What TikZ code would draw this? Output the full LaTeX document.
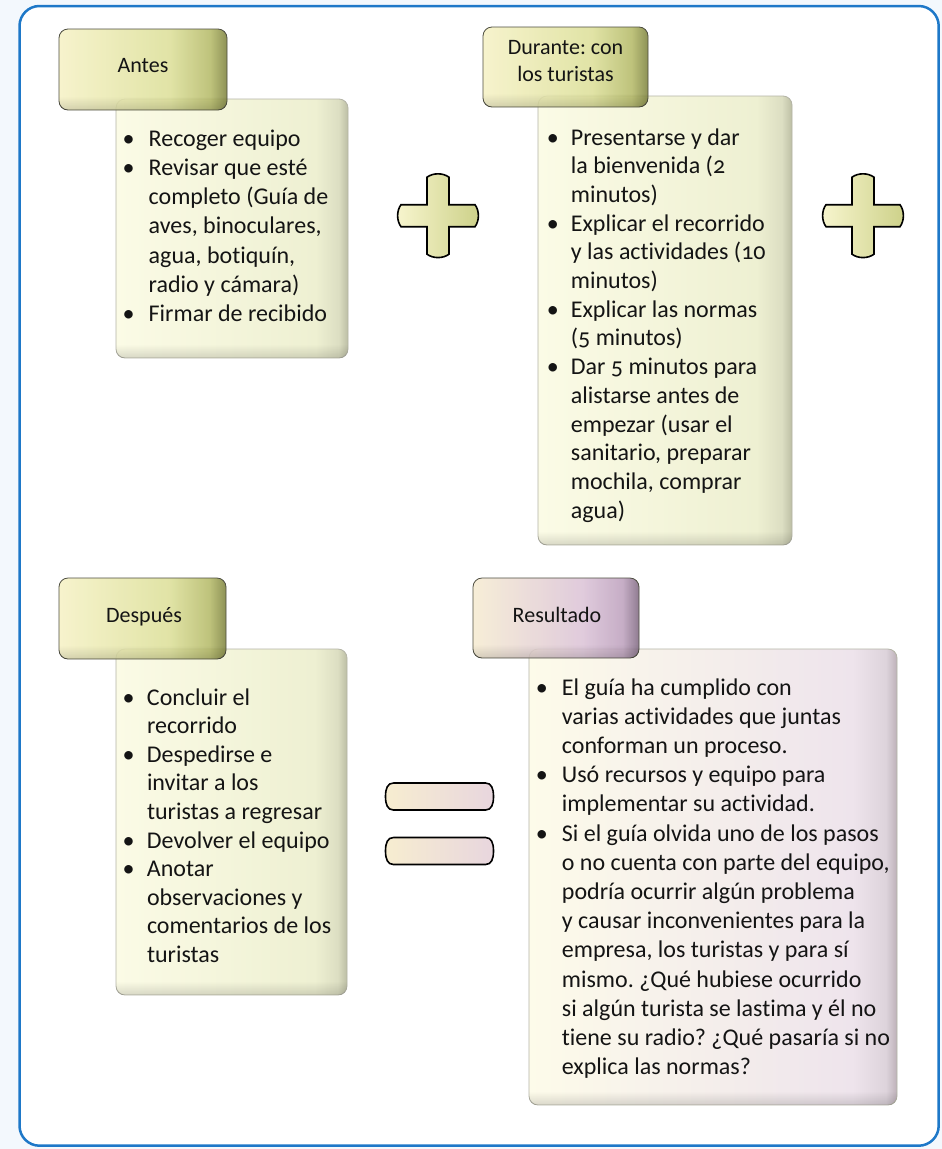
\documentclass[tikz,border=0pt]{standalone}
\usepackage{fontspec}
\setmainfont{Carlito}[Numbers=OldStyle, Ligatures=NoCommon]
\usetikzlibrary{fadings}
\frenchspacing

\definecolor{framecol}{HTML}{1E78C8}
\definecolor{outbg}{HTML}{F3F8FD}
\definecolor{hy1}{HTML}{F6F2C6}
\definecolor{hy2}{HTML}{DDE09A}
\definecolor{hy3}{HTML}{B6BB6A}
\definecolor{hy4}{HTML}{7E833F}
\definecolor{py1}{HTML}{F6ECD2}
\definecolor{py2}{HTML}{DCC4D8}
\definecolor{py3}{HTML}{BFA3BF}
\definecolor{py4}{HTML}{806A82}
\definecolor{cy1}{HTML}{FBFBE6}
\definecolor{cy2}{HTML}{EEF0D2}
\definecolor{cy3}{HTML}{DCDEC2}
\definecolor{cy4}{HTML}{BCBEA4}
\definecolor{qy1}{HTML}{FDFBEA}
\definecolor{qy2}{HTML}{EEE4EC}
\definecolor{qy3}{HTML}{DDD3DB}
\definecolor{qy4}{HTML}{BDB1B9}
\definecolor{plusL}{HTML}{F7F5CE}
\definecolor{plusR}{HTML}{CDD189}
\definecolor{eqL}{HTML}{F7EDD0}
\definecolor{eqR}{HTML}{E8D6DE}
\definecolor{hdrline}{HTML}{4D4D40}
\definecolor{boxline}{HTML}{B4B4A6}
\definecolor{txt}{HTML}{141414}

\pgfdeclarehorizontalshading{hdrolive}{100bp}{color(0bp)=(hy1); color(25bp)=(hy1); color(58bp)=(hy2); color(70bp)=(hy3); color(75bp)=(hy4); color(100bp)=(hy4)}
\pgfdeclarehorizontalshading{hdrpurple}{100bp}{color(0bp)=(py1); color(25bp)=(py1); color(58bp)=(py2); color(70bp)=(py3); color(75bp)=(py4); color(100bp)=(py4)}
\pgfdeclarehorizontalshading{cntolive}{100bp}{color(0bp)=(cy1); color(25bp)=(cy1); color(68bp)=(cy2); color(73bp)=(cy3); color(75bp)=(cy4); color(100bp)=(cy4)}
\pgfdeclarehorizontalshading{cntpurple}{100bp}{color(0bp)=(qy1); color(25bp)=(qy1); color(69bp)=(qy2); color(73.5bp)=(qy3); color(75bp)=(qy4); color(100bp)=(qy4)}

\newlength\bind
\newcommand\bl{\makebox[0pt]{\textbullet}\hspace*{\bind}}
\newcommand\cl{\hspace*{\bind}}

\tikzset{
  hdrbox/.style={draw=hdrline, line width=0.8pt, rounded corners=9pt, fill opacity=0.88, inner sep=0},
  cntbox/.style={draw=boxline, line width=0.8pt, rounded corners=9pt, inner sep=0},
  hdrtext/.style={inner sep=0, anchor=base, text=txt, font=\fontsize{22}{27}\selectfont},
  listtext/.style={inner sep=0, anchor=base west, text=txt},
  plusshape/.style={draw=black, line width=1.6pt, left color=plusL, right color=plusR},
  eqshape/.style={draw=black, line width=1.6pt, left color=eqL, right color=eqR},
}

\newcommand\plussign[2]{%
  \draw[plusshape] ({#1-11},{#2-38.5}) .. controls ({#1-5},{#2-43}) and ({#1+5},{#2-43}) .. ({#1+11},{#2-38.5})
    -- ({#1+11},{#2-11}) -- ({#1+37},{#2-11})
    .. controls ({#1+41.5},{#2-5}) and ({#1+41.5},{#2+5}) .. ({#1+37},{#2+11})
    -- ({#1+11},{#2+11}) -- ({#1+11},{#2+38.5})
    .. controls ({#1+5},{#2+43}) and ({#1-5},{#2+43}) .. ({#1-11},{#2+38.5})
    -- ({#1-11},{#2+11}) -- ({#1-37},{#2+11})
    .. controls ({#1-41.5},{#2+5}) and ({#1-41.5},{#2-5}) .. ({#1-37},{#2-11})
    -- ({#1-11},{#2-11}) -- cycle;}

\newcommand\eqbar[2]{%
  \draw[eqshape] ({#1-46},{#2-13.5}) -- ({#1+46},{#2-13.5})
    .. controls ({#1+52},{#2-13.5}) and ({#1+54},{#2-8}) .. ({#1+54},{#2})
    .. controls ({#1+54},{#2+8}) and ({#1+52},{#2+13.5}) .. ({#1+46},{#2+13.5})
    -- ({#1-46},{#2+13.5})
    .. controls ({#1-52},{#2+13.5}) and ({#1-54},{#2+8}) .. ({#1-54},{#2})
    .. controls ({#1-54},{#2-8}) and ({#1-52},{#2-13.5}) .. ({#1-46},{#2-13.5}) -- cycle;}

\newcommand\bottomband[1]{%
  \begin{scope}
    \clip[rounded corners=9pt] (#1.south west) rectangle (#1.north east);
    \fill[black, opacity=0.14, path fading=north] (#1.south west) rectangle ([yshift=14pt]#1.south east);
  \end{scope}}

\begin{document}
\begin{tikzpicture}[x=1pt, y=-1pt]
\useasboundingbox (0,0) rectangle (942,1149);
\fill[outbg] (0,0) rectangle (942,1149);
\draw[framecol, line width=2.5pt, rounded corners=20pt, fill=white] (19.5,6) rectangle (938.7,1145.7);

% ---------- Antes ----------
\node[cntbox, shading=cntolive, minimum width=232pt, minimum height=259pt] (cA) at (232,228.5) {};
\bottomband{cA}
\node[listtext] (tA) at (128.5,146) {\parbox[t]{300pt}{\setlength\bind{20pt}\fontsize{24}{29.3}\selectfont\raggedright
\bl Recoger equipo\\
\bl Revisar que esté\\
\cl completo (Guía de\\
\cl aves, binoculares,\\
\cl agua, botiquín,\\
\cl radio y cámara)\\
\bl Firmar de recibido}};
\node[hdrbox, shading=hdrolive, minimum width=168pt, minimum height=81pt] (hA) at (143,69.5) {};
\bottomband{hA}
\node[hdrtext] (lA) at (143,72.7) {Antes};

% ---------- Durante ----------
\node[cntbox, shading=cntolive, minimum width=254pt, minimum height=449pt] (cD) at (665,320.5) {};
\bottomband{cD}
\node[listtext] (tD) at (552.7,145) {\parbox[t]{300pt}{\setlength\bind{18pt}\fontsize{24}{28.7}\selectfont\raggedright
\bl Presentarse y dar\\
\cl la bienvenida (2\\
\cl minutos)\\
\bl Explicar el recorrido\\
\cl y las actividades (10\\
\cl minutos)\\
\bl Explicar las normas\\
\cl (5 minutos)\\
\bl Dar 5 minutos para\\
\cl alistarse antes de\\
\cl empezar (usar el\\
\cl sanitario, preparar\\
\cl mochila, comprar\\
\cl agua)}};
\node[hdrbox, shading=hdrolive, minimum width=165pt, minimum height=80pt] (hD) at (565.5,67) {};
\bottomband{hD}
\node[hdrtext] (lD) at (565.5,54) {\parbox[t]{160pt}{\centering\fontsize{22}{27}\selectfont Durante: con\\los turistas}};

% ---------- Después ----------
\node[cntbox, shading=cntolive, minimum width=231pt, minimum height=346pt] (cP) at (231.5,822) {};
\bottomband{cP}
\node[listtext] (tP) at (128.3,705) {\parbox[t]{300pt}{\setlength\bind{18.5pt}\fontsize{24}{28.6}\selectfont\raggedright
\bl Concluir el\\
\cl recorrido\\
\bl Despedirse e\\
\cl invitar a los\\
\cl turistas a regresar\\
\bl Devolver el equipo\\
\bl Anotar\\
\cl observaciones y\\
\cl comentarios de los\\
\cl turistas}};
\node[hdrbox, shading=hdrolive, minimum width=167pt, minimum height=81pt] (hP) at (142.5,618.5) {};
\bottomband{hP}
\node[hdrtext] (lP) at (144,622) {Después};

% ---------- Resultado ----------
\node[cntbox, shading=cntpurple, minimum width=368pt, minimum height=456pt] (cR) at (713,877) {};
\bottomband{cR}
\node[listtext] (tR) at (541.7,695) {\parbox[t]{400pt}{\setlength\bind{20pt}\fontsize{24}{29.2}\selectfont\raggedright
\bl El guía ha cumplido con\\
\cl varias actividades que juntas\\
\cl conforman un proceso.\\
\bl Usó recursos y equipo para\\
\cl implementar su actividad.\\
\bl Si el guía olvida uno de los pasos\\
\cl o no cuenta con parte del equipo,\\
\cl podría ocurrir algún problema\\
\cl y causar inconvenientes para la\\
\cl empresa, los turistas y para sí\\
\cl mismo. ¿Qué hubiese ocurrido\\
\cl si algún turista se lastima y él no\\
\cl tiene su radio? ¿Qué pasaría si no\\
\cl explica las normas?}};
\node[hdrbox, shading=hdrpurple, minimum width=166pt, minimum height=80pt] (hR) at (556,618) {};
\bottomband{hR}
\node[hdrtext] (lR) at (557,622) {Resultado};

% ---------- operators ----------
\plussign{438}{215.7}
\plussign{863}{215.7}
\eqbar{439.5}{796.5}
\eqbar{439.5}{851}
\end{tikzpicture}
\end{document}
